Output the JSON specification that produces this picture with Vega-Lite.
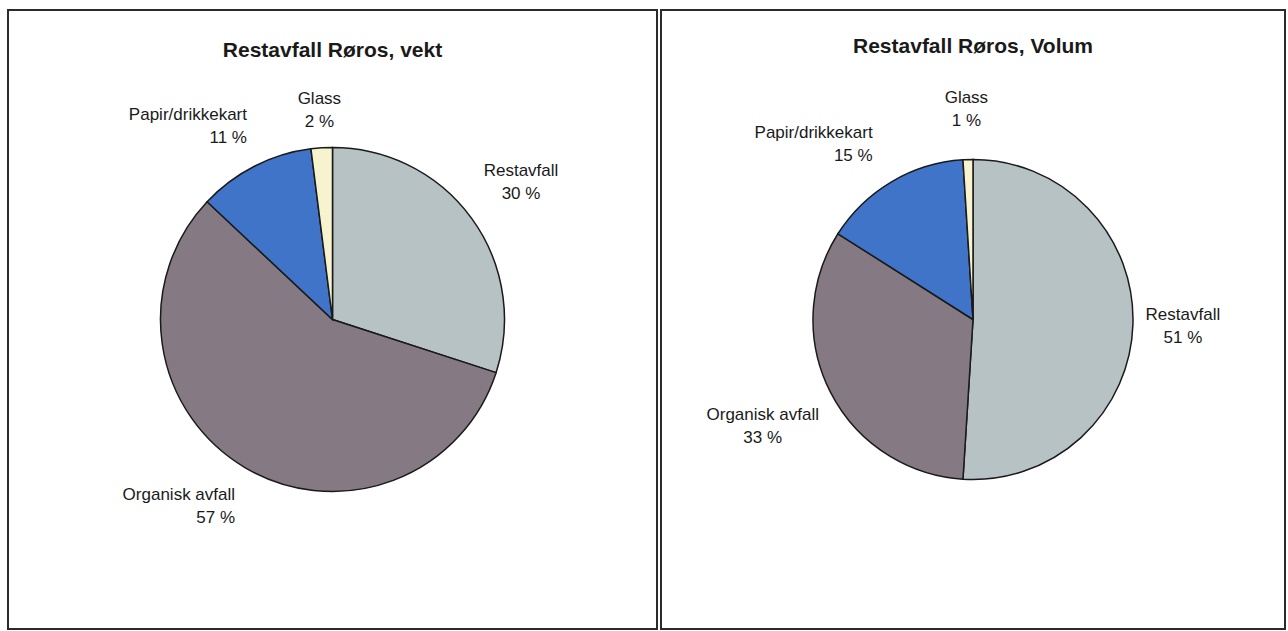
{
  "$schema": "https://vega.github.io/schema/vega-lite/v6.json",
  "background": "white",
  "padding": {"left": 7, "top": 9, "right": 2, "bottom": 2},
  "spacing": 2,
  "config": {
    "view": {"stroke": null},
    "font": "Liberation Sans",
    "text": {"fontSize": 17, "lineHeight": 23, "lineBreak": "\n", "fill": "#1a1a1a", "baseline": "middle", "dy": -11.5}
  },
  "datasets": {
    "vekt": [
      {"kategori": "Restavfall", "andel": 30, "rank": 1},
      {"kategori": "Organisk avfall", "andel": 57, "rank": 2},
      {"kategori": "Papir/drikkekart", "andel": 11, "rank": 3},
      {"kategori": "Glass", "andel": 2, "rank": 4}
    ],
    "volum": [
      {"kategori": "Restavfall", "andel": 51, "rank": 1},
      {"kategori": "Organisk avfall", "andel": 33, "rank": 2},
      {"kategori": "Papir/drikkekart", "andel": 15, "rank": 3},
      {"kategori": "Glass", "andel": 1, "rank": 4}
    ],
    "ramme": [{"panel": 1}]
  },
  "hconcat": [
    {
      "width": 649,
      "height": 619,
      "title": {"text": "Restavfall Røros, vekt", "offset": -52, "fontSize": 21, "fontWeight": "bold", "color": "#1a1a1a", "anchor": "middle"},
      "data": {"name": "vekt"},
      "transform": [
        {"stack": "andel", "groupby": [], "sort": [{"field": "rank", "order": "ascending"}], "as": ["s0", "s1"]},
        {"calculate": "(datum.s0 + datum.s1) / 2", "as": "mid"},
        {"calculate": "datum.kategori + '\\n' + datum.andel + ' %'", "as": "label"}
      ],
      "layer": [
        {
          "data": {"name": "ramme"},
          "transform": [],
          "mark": {"type": "rect", "fill": "white", "stroke": "#2b2b2b", "strokeWidth": 2},
          "encoding": {}
        },
        {
          "mark": {"type": "arc", "outerRadius": 172, "stroke": "#1a1a1a", "strokeWidth": 1.5},
          "encoding": {
            "theta": {"field": "s0", "type": "quantitative", "scale": {"domain": [0, 100]}},
            "theta2": {"field": "s1"},
            "color": {"field": "kategori", "type": "nominal", "legend": null,
              "scale": {"domain": ["Restavfall", "Organisk avfall", "Papir/drikkekart", "Glass"], "range": ["#b7c2c5", "#857a83", "#3f74c8", "#f8f3cf"]}}
          }
        },
        {
          "transform": [{"filter": "datum.kategori === 'Restavfall'"}],
          "mark": {"type": "text", "radius": 233, "align": "center"},
          "encoding": {
            "theta": {"field": "mid", "type": "quantitative", "scale": {"domain": [0, 100]}},
            "text": {"field": "label", "type": "nominal"}
          }
        },
        {
          "transform": [{"filter": "datum.kategori === 'Glass'"}],
          "mark": {"type": "text", "radius": 209, "align": "center"},
          "encoding": {
            "theta": {"field": "mid", "type": "quantitative", "scale": {"domain": [0, 100]}},
            "text": {"field": "label", "type": "nominal"}
          }
        },
        {
          "transform": [{"filter": "datum.kategori === 'Organisk avfall' || datum.kategori === 'Papir/drikkekart'"}],
          "mark": {"type": "text", "radius": 217, "align": "right", "dx": 13},
          "encoding": {
            "theta": {"field": "mid", "type": "quantitative", "scale": {"domain": [0, 100]}},
            "text": {"field": "label", "type": "nominal"}
          }
        }
      ]
    },
    {
      "width": 624,
      "height": 619,
      "title": {"text": "Restavfall Røros, Volum", "offset": -48, "fontSize": 21, "fontWeight": "bold", "color": "#1a1a1a", "anchor": "middle"},
      "data": {"name": "volum"},
      "transform": [
        {"stack": "andel", "groupby": [], "sort": [{"field": "rank", "order": "ascending"}], "as": ["s0", "s1"]},
        {"calculate": "(datum.s0 + datum.s1) / 2", "as": "mid"},
        {"calculate": "datum.kategori + '\\n' + datum.andel + ' %'", "as": "label"}
      ],
      "layer": [
        {
          "data": {"name": "ramme"},
          "transform": [],
          "mark": {"type": "rect", "fill": "white", "stroke": "#2b2b2b", "strokeWidth": 2},
          "encoding": {}
        },
        {
          "mark": {"type": "arc", "outerRadius": 160, "stroke": "#1a1a1a", "strokeWidth": 1.5},
          "encoding": {
            "theta": {"field": "s0", "type": "quantitative", "scale": {"domain": [0, 100]}},
            "theta2": {"field": "s1"},
            "color": {"field": "kategori", "type": "nominal", "legend": null,
              "scale": {"domain": ["Restavfall", "Organisk avfall", "Papir/drikkekart", "Glass"], "range": ["#b7c2c5", "#857a83", "#3f74c8", "#f8f3cf"]}}
          }
        },
        {
          "transform": [{"filter": "datum.kategori === 'Restavfall' || datum.kategori === 'Glass'"}],
          "mark": {"type": "text", "radius": 210, "align": "center"},
          "encoding": {
            "theta": {"field": "mid", "type": "quantitative", "scale": {"domain": [0, 100]}},
            "text": {"field": "label", "type": "nominal"}
          }
        },
        {
          "transform": [{"filter": "datum.kategori === 'Organisk avfall'"}],
          "mark": {"type": "text", "radius": 236, "align": "center"},
          "encoding": {
            "theta": {"field": "mid", "type": "quantitative", "scale": {"domain": [0, 100]}},
            "text": {"field": "label", "type": "nominal"}
          }
        },
        {
          "transform": [{"filter": "datum.kategori === 'Papir/drikkekart'"}],
          "mark": {"type": "text", "radius": 203, "align": "right", "dx": 3},
          "encoding": {
            "theta": {"field": "mid", "type": "quantitative", "scale": {"domain": [0, 100]}},
            "text": {"field": "label", "type": "nominal"}
          }
        }
      ]
    }
  ]
}
